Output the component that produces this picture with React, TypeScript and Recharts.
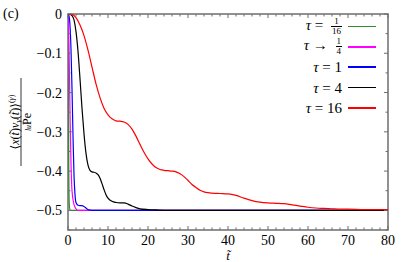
import React from "react";
import { LineChart, Line, XAxis, YAxis, Legend, ReferenceArea } from "recharts";

const SERIF = '"Liberation Serif", "DejaVu Serif", serif';
const FRAME = "#6e6e6e";

// tau = 1/16
const tGreen = [0, 0.1, 0.2, 0.3, 0.5, 80];
const vGreen = [0, -0.2, -0.4, -0.48, -0.5, -0.5];

// tau -> 1/4
const tMagenta = [0, 0.25, 0.5, 0.75, 1, 1.5, 2, 2.5, 80];
const vMagenta = [0, -0.08, -0.25, -0.38, -0.45, -0.485, -0.496, -0.5, -0.5];

// tau = 1
const tBlue = [0, 0.25, 0.5, 0.75, 1, 1.25, 1.5, 1.75, 2, 2.5, 3, 3.5, 4, 4.5, 5, 5.5, 6, 80];
const vBlue = [0, -0.005, -0.03, -0.09, -0.19, -0.31, -0.41, -0.46, -0.48, -0.487, -0.488, -0.488, -0.49, -0.494, -0.498, -0.499, -0.5, -0.5];

// tau = 4
const tBlack = [0, 0.5, 1, 1.5, 2, 2.5, 3, 3.5, 4, 4.5, 5, 5.5, 6, 6.5, 7, 7.5, 8, 8.5, 9, 9.5, 10, 11, 12, 13, 14, 15, 16, 17, 18, 20, 22, 25, 80];
const vBlack = [0, -0.001, -0.004, -0.015, -0.045, -0.095, -0.165, -0.24, -0.305, -0.355, -0.385, -0.398, -0.402, -0.403, -0.405, -0.409, -0.418, -0.432, -0.447, -0.46, -0.469, -0.477, -0.48, -0.481, -0.481, -0.484, -0.489, -0.493, -0.496, -0.498, -0.499, -0.5, -0.5];

// tau = 16
const tRed = [0, 1, 2, 3, 4, 5, 6, 7, 8, 9, 10, 11, 12, 13, 14, 15, 16, 17, 18, 19, 20, 21, 22, 23, 24, 25, 26, 27, 28, 29, 30, 31, 32, 33, 34, 35, 36, 38, 40, 42, 44, 46, 48, 50, 52, 54, 56, 58, 60, 62, 64, 66, 68, 70, 74, 80];
const vRed = [0, -0.001, -0.009, -0.028, -0.055, -0.092, -0.135, -0.178, -0.213, -0.24, -0.257, -0.267, -0.272, -0.273, -0.275, -0.281, -0.293, -0.311, -0.332, -0.352, -0.369, -0.382, -0.391, -0.396, -0.398, -0.399, -0.4, -0.402, -0.407, -0.414, -0.424, -0.434, -0.442, -0.449, -0.453, -0.455, -0.456, -0.457, -0.458, -0.462, -0.469, -0.475, -0.479, -0.481, -0.482, -0.483, -0.486, -0.489, -0.492, -0.494, -0.495, -0.496, -0.497, -0.497, -0.498, -0.498];

// every 2 units on x, every 0.05 on y; labels on every 10 / 0.1
const xTicks = [0, 2, 4, 6, 8, 10, 12, 14, 16, 18, 20, 22, 24, 26, 28, 30, 32, 34, 36, 38, 40, 42, 44, 46, 48, 50, 52, 54, 56, 58, 60, 62, 64, 66, 68, 70, 72, 74, 76, 78, 80];
const yTicks = [-0.55, -0.5, -0.45, -0.4, -0.35, -0.3, -0.25, -0.2, -0.15, -0.1, -0.05, 0];

const isMajorX = (v: number) => Math.abs(v % 10) < 1e-6;
const isMajorY = (v: number) => Math.round(Math.abs(v) * 20) % 2 === 0;

const toPts = (ts: number[], vs: number[]) => ts.map((t, i) => ({ t, v: vs[i] }));

const series = [
  { key: "g", color: "#2e8b2e", data: toPts(tGreen, vGreen) },
  { key: "m", color: "#ff00ff", data: toPts(tMagenta, vMagenta) },
  { key: "b", color: "#0000ff", data: toPts(tBlue, vBlue) },
  { key: "k", color: "#000000", data: toPts(tBlack, vBlack) },
  { key: "r", color: "#ff0000", data: toPts(tRed, vRed) },
];

const Frac = ({ n, d }: { n: string; d: string }) => (
  <span style={{ display: "inline-flex", flexDirection: "column", alignItems: "center", fontSize: 9, lineHeight: "9px", marginLeft: 4, verticalAlign: "middle" }}>
    <span style={{ padding: "0 1px" }}>{n}</span>
    <span style={{ borderTop: "0.8px solid #000", padding: "0 1px" }}>{d}</span>
  </span>
);

const tau = <i>τ</i>;
const legendLabels = [
  <>{tau} = <Frac n="1" d="16" /></>,
  <>{tau} → <Frac n="1" d="4" /></>,
  <>{tau} = 1</>,
  <>{tau} = 4</>,
  <>{tau} = 16</>,
];

function LegendBox() {
  return (
    <div style={{ fontFamily: SERIF, fontSize: 15, lineHeight: "16px", color: "#000" }}>
      {series.map((s, i) => (
        <div key={s.key} style={{ display: "flex", alignItems: "center", justifyContent: "flex-end", height: 20.3, whiteSpace: "nowrap" }}>
          <span>{legendLabels[i]}</span>
          <span style={{ display: "inline-block", width: 28, height: 1.5, background: s.color, marginLeft: 6 }} />
        </div>
      ))}
    </div>
  );
}

const txt = { fontFamily: SERIF };

const BottomTick = ({ x, y, payload }: any) => {
  const major = isMajorX(payload.value);
  return (
    <g>
      <line x1={x} x2={x} y1={y} y2={y - (major ? 4 : 2.5)} stroke={FRAME} />
      {major && (
        <text x={x} y={y + 15} textAnchor="middle" style={txt} fontSize={14} fill="#000">
          {payload.value}
        </text>
      )}
    </g>
  );
};

const TopTick = ({ x, y, payload }: any) => {
  const major = isMajorX(payload.value);
  return <line x1={x} x2={x} y1={y} y2={y + (major ? 4 : 2.5)} stroke={FRAME} />;
};

const LeftTick = ({ x, y, payload }: any) => {
  const v = payload.value;
  const major = isMajorY(v);
  return (
    <g>
      <line x1={x} x2={x + (major ? 4 : 2.5)} y1={y} y2={y} stroke={FRAME} />
      {major && v > -0.52 && (
        <text x={x - 6} y={y + 5} textAnchor="end" style={txt} fontSize={14} fill="#000">
          {v === 0 ? "0" : "−" + Math.abs(v).toFixed(1)}
        </text>
      )}
    </g>
  );
};

const RightTick = ({ x, y, payload }: any) => {
  const major = isMajorY(payload.value);
  return <line x1={x} x2={x - (major ? 4 : 2.5)} y1={y} y2={y} stroke={FRAME} />;
};

export default function App() {
  return (
    <div style={{ position: "absolute", left: 0, top: 0, width: 407, height: 262, background: "#fff" }}>
      <LineChart width={407} height={262} margin={{ top: 0, right: 0, bottom: 0, left: 0 }}>
        <XAxis xAxisId={0} dataKey="t" type="number" domain={[0, 80]} ticks={xTicks} interval={0} tick={BottomTick} tickLine={false} tickSize={0} tickMargin={0} height={32} axisLine={false} allowDataOverflow />
        <XAxis xAxisId="top" orientation="top" dataKey="t" type="number" domain={[0, 80]} ticks={xTicks} interval={0} tick={TopTick} tickLine={false} tickSize={0} tickMargin={0} height={14} axisLine={false} allowDataOverflow />
        <YAxis yAxisId={0} type="number" domain={[-0.55, 0]} ticks={yTicks} interval={0} tick={LeftTick} tickLine={false} tickSize={0} tickMargin={0} width={68} axisLine={false} allowDataOverflow />
        <YAxis yAxisId="right" orientation="right" type="number" domain={[-0.55, 0]} ticks={yTicks} interval={0} tick={RightTick} tickLine={false} tickSize={0} tickMargin={0} width={19} axisLine={false} allowDataOverflow />
        <Legend layout="vertical" align="center" verticalAlign="middle" content={() => <LegendBox />} wrapperStyle={{ position: "absolute", left: 260, top: 16.5, width: 116, height: "auto" }} />
        {series.map((s) => (
          <Line key={s.key} data={s.data} dataKey="v" type="monotone" stroke={s.color} strokeWidth={1.2} dot={false} isAnimationActive={false} legendType="none" />
        ))}
        <ReferenceArea x1={0} x2={80} y1={-0.55} y2={0} fill="none" fillOpacity={0} stroke={FRAME} strokeWidth={1.5} ifOverflow="visible" />
      </LineChart>
      <svg width={407} height={262} style={{ position: "absolute", left: 0, top: 0, pointerEvents: "none", fontFamily: SERIF }}>
        <text x={3} y={18} fontSize={14} fill="#000">(c)</text>
        <text x={228} y={260} fontSize={13} fontStyle="italic" textAnchor="middle" fill="#000">t̃</text>
        <g transform="translate(21,122) rotate(-90)">
          <text x={0} y={-2} fontSize={12} textAnchor="middle" fill="#000">
            ⟨<tspan fontStyle="italic">x</tspan>(<tspan fontStyle="italic">t̃</tspan>)<tspan fontStyle="italic">v</tspan>
            <tspan fontSize={8} fontStyle="italic" dy={2}>y</tspan>
            <tspan dy={-2}>(</tspan><tspan fontStyle="italic">t̃</tspan>)⟩
            <tspan fontSize={8} dy={-5}>(<tspan fontStyle="italic">γ</tspan>)</tspan>
          </text>
          <line x1={-44} x2={44} y1={0} y2={0} stroke="#000" strokeWidth={0.8} />
          <text x={0} y={10} fontSize={12} textAnchor="middle" fill="#000">
            <tspan fontSize={8} fontStyle="italic">lu</tspan>Pe
          </text>
        </g>
      </svg>
    </div>
  );
}
